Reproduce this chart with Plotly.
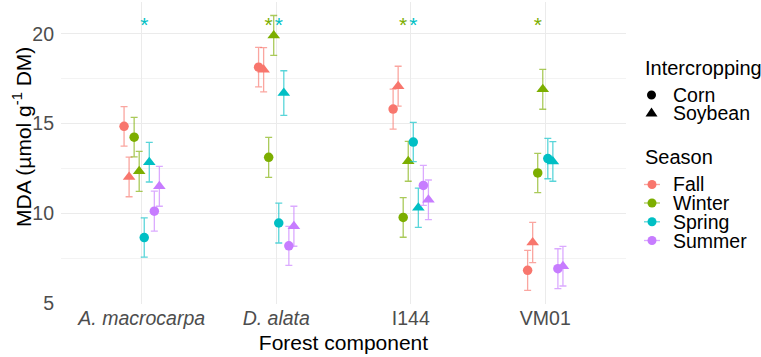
import plotly.graph_objects as go

# ---------------- data ----------------
categories = ["A. macrocarpa", "D. alata", "I144", "VM01"]
tick_labels = ["<i>A. macrocarpa</i>", "<i>D. alata</i>", "I144", "VM01"]
seasons = ["Fall", "Winter", "Spring", "Summer"]
intercropping = ["Corn", "Soybean"]

fall_corn = [14.85, 18.14, 15.81, 6.85]
fall_soybean = [12.04, 18.00, 17.08, 8.40]
winter_corn = [14.25, 13.13, 9.79, 12.26]
winter_soybean = [12.35, 19.90, 12.91, 16.91]
spring_corn = [8.67, 9.48, 13.98, 13.06]
spring_soybean = [12.86, 16.70, 10.33, 12.90]
summer_corn = [10.14, 8.21, 11.57, 6.94]
summer_soybean = [11.52, 9.30, 10.77, 7.08]

fall_corn_se = [1.10, 1.10, 1.11, 1.11]
fall_soybean_se = [1.10, 1.23, 1.11, 1.12]
winter_corn_se = [1.10, 1.11, 1.10, 1.09]
winter_soybean_se = [1.11, 1.11, 1.11, 1.11]
spring_corn_se = [1.09, 1.11, 1.09, 1.12]
spring_soybean_se = [1.10, 1.24, 1.09, 1.10]
summer_corn_se = [1.11, 1.08, 1.11, 1.11]
summer_soybean_se = [1.11, 1.11, 1.10, 1.10]

series = {
    ("Fall", "Corn"): (fall_corn, fall_corn_se),
    ("Fall", "Soybean"): (fall_soybean, fall_soybean_se),
    ("Winter", "Corn"): (winter_corn, winter_corn_se),
    ("Winter", "Soybean"): (winter_soybean, winter_soybean_se),
    ("Spring", "Corn"): (spring_corn, spring_corn_se),
    ("Spring", "Soybean"): (spring_soybean, spring_soybean_se),
    ("Summer", "Corn"): (summer_corn, summer_corn_se),
    ("Summer", "Soybean"): (summer_soybean, summer_soybean_se),
}

# significance asterisks (category, season)
sig_category = ["A. macrocarpa", "D. alata", "D. alata", "I144", "I144", "VM01"]
sig_season = ["Spring", "Winter", "Spring", "Winter", "Spring", "Winter"]
sig_level = 20.4

y_ticks = [5, 10, 15, 20]

# ---------------- style / layout ----------------
season_colors = {"Fall": "#F8766D", "Winter": "#7CAE00", "Spring": "#00BFC4", "Summer": "#C77CFF"}
season_err = {"Fall": "rgba(248,118,109,0.65)", "Winter": "rgba(124,174,0,0.65)",
              "Spring": "rgba(0,191,196,0.65)", "Summer": "rgba(199,124,255,0.65)"}
symbols = {"Corn": "circle", "Soybean": "triangle-up"}
msizes = {"Corn": 9.5, "Soybean": 11}
dodge_step = 0.0375

W, H = 761, 357
L, R, T, B = 61, 135, 2, 53
PW, PH = W - L - R, H - T - B
FONT = "Liberation Sans, Arial, sans-serif"


def px_x(px):
    return (px - L) / PW


def px_y(py):
    return (H - B - py) / PH


fig = go.Figure()

for i, s in enumerate(seasons):
    for j, c in enumerate(intercropping):
        k = i * 2 + j
        off = (k - 3.5) * dodge_step
        vals, se = series[(s, c)]
        xs = [idx + off for idx in range(len(categories))]
        fig.add_trace(go.Scatter(
            x=xs, y=vals, mode="markers", name=f"{s} - {c}",
            marker=dict(symbol=symbols[c], size=msizes[c], color=season_colors[s], line=dict(width=0)),
            error_y=dict(type="data", array=se, color=season_err[s], thickness=1.3, width=3.5),
            showlegend=False, hoverinfo="x+y+name",
        ))

# asterisks, placed at the corn position of the season
sig_x = [categories.index(cat) + (2 * seasons.index(se_) - 3.5) * dodge_step
         for cat, se_ in zip(sig_category, sig_season)]
fig.add_trace(go.Scatter(
    x=sig_x, y=[sig_level] * len(sig_x), mode="text", text=["*"] * len(sig_x),
    textposition="middle center",
    textfont=dict(family=FONT, size=21, color=[season_colors[s] for s in sig_season]),
    showlegend=False, hoverinfo="skip",
))

annotations = []
shapes = []

# y-axis title
annotations.append(dict(
    text="MDA (µmol g<sup>-1</sup> DM)", xref="paper", yref="paper",
    x=px_x(22), y=px_y(137), xanchor="center", yanchor="middle", textangle=-90,
    showarrow=False, font=dict(family=FONT, size=21, color="#000000"),
))

# manual legend
leg_title_x = 643
leg_glyph_x = 651.5
leg_text_x = 670.5
annotations.append(dict(text="Intercropping", xref="paper", yref="paper", x=px_x(leg_title_x), y=px_y(68),
                        xanchor="left", yanchor="middle", showarrow=False,
                        font=dict(family=FONT, size=20, color="#000000")))
shape_rows = {"Corn": 95, "Soybean": 113}
for c in intercropping:
    yy = shape_rows[c]
    annotations.append(dict(text=c, xref="paper", yref="paper", x=px_x(leg_text_x), y=px_y(yy),
                            xanchor="left", yanchor="middle", showarrow=False,
                            font=dict(family=FONT, size=19.5, color="#000000")))
    if c == "Corn":
        shapes.append(dict(type="circle", xref="paper", yref="paper", xsizemode="pixel", ysizemode="pixel",
                           xanchor=px_x(leg_glyph_x), yanchor=px_y(yy), x0=-4.5, x1=4.5, y0=-4.5, y1=4.5,
                           fillcolor="#000000", line=dict(width=0)))
    else:
        shapes.append(dict(type="path", xref="paper", yref="paper", xsizemode="pixel", ysizemode="pixel",
                           xanchor=px_x(leg_glyph_x), yanchor=px_y(yy),
                           path="M -6,-3.5 L 6,-3.5 L 0,5.5 Z",
                           fillcolor="#000000", line=dict(width=0)))

annotations.append(dict(text="Season", xref="paper", yref="paper", x=px_x(leg_title_x), y=px_y(157),
                        xanchor="left", yanchor="middle", showarrow=False,
                        font=dict(family=FONT, size=20, color="#000000")))
season_rows = [184.5, 203, 221.8, 240.5]
for s, yy in zip(seasons, season_rows):
    annotations.append(dict(text=s, xref="paper", yref="paper", x=px_x(leg_text_x), y=px_y(yy),
                            xanchor="left", yanchor="middle", showarrow=False,
                            font=dict(family=FONT, size=19.5, color="#000000")))
    shapes.append(dict(type="line", xref="paper", yref="paper", x0=px_x(644), x1=px_x(660),
                       y0=px_y(yy), y1=px_y(yy), line=dict(color=season_err[s], width=1.3)))
    shapes.append(dict(type="circle", xref="paper", yref="paper", xsizemode="pixel", ysizemode="pixel",
                       xanchor=px_x(652), yanchor=px_y(yy), x0=-4.5, x1=4.5, y0=-4.5, y1=4.5,
                       fillcolor=season_colors[s], line=dict(width=0)))

fig.update_layout(
    width=W, height=H,
    margin=dict(l=L, r=R, t=T, b=B, pad=0),
    paper_bgcolor="white", plot_bgcolor="white",
    font=dict(family=FONT, color="#000000"),
    showlegend=False,
    annotations=annotations,
    shapes=shapes,
    xaxis=dict(
        range=[-0.6, len(categories) - 1 + 0.6],
        tickmode="array", tickvals=list(range(len(categories))), ticktext=tick_labels,
        showgrid=True, gridcolor="#EBEBEB", gridwidth=1.2,
        zeroline=False, showline=False, ticks="",
        tickfont=dict(family=FONT, size=19.5, color="#4D4D4D"),
        ticklabelstandoff=0,
        title=dict(text="Forest component", font=dict(family=FONT, size=21, color="#000000"), standoff=7),
    ),
    yaxis=dict(
        range=[4.98, 21.76],
        tickmode="array", tickvals=y_ticks, ticktext=[str(v) for v in y_ticks],
        showgrid=True, gridcolor="#EBEBEB", gridwidth=1.2,
        minor=dict(tickmode="array", tickvals=[7.5, 12.5, 17.5], showgrid=True,
                   gridcolor="#F3F3F3", gridwidth=0.8, ticks=""),
        zeroline=False, showline=False, ticks="",
        tickfont=dict(family=FONT, size=19.5, color="#4D4D4D"),
        ticklabelstandoff=6,
    ),
)

fig.write_html("out.html")
